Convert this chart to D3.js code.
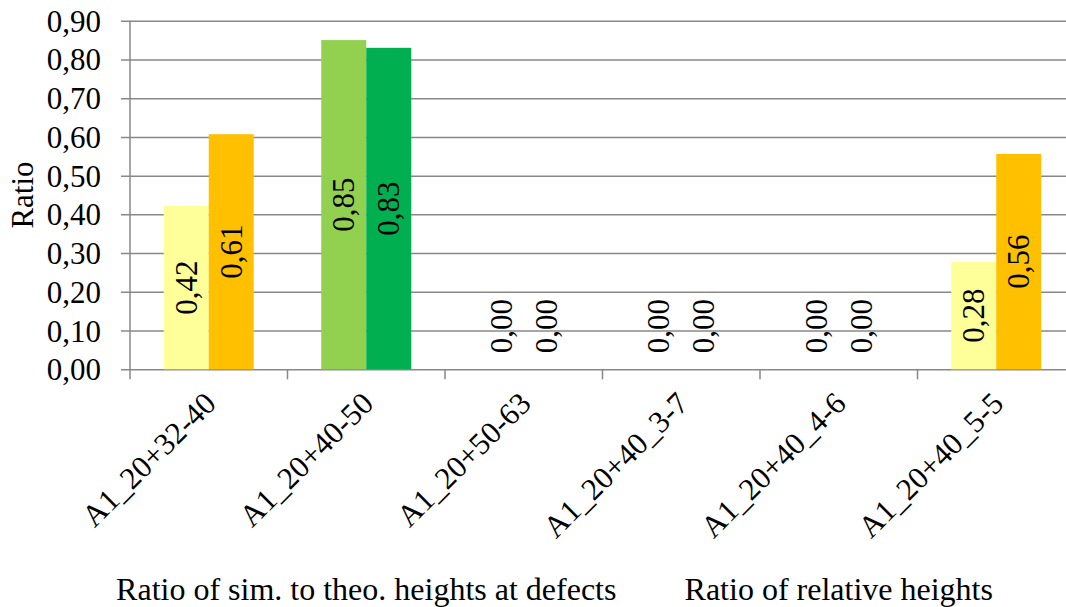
<!DOCTYPE html>
<html>
<head>
<meta charset="utf-8">
<script src="https://cdn.jsdelivr.net/npm/d3@7"></script>
<style>
  html, body { margin: 0; padding: 0; background: #fff; }
  svg text { font-family: "Liberation Serif", Tinos, "Times New Roman", serif; }
</style>
</head>
<body>
<div id="chart"></div>
<script>
// data
const categories = ["A1_20+32-40", "A1_20+40-50", "A1_20+50-63", "A1_20+40_3-7", "A1_20+40_4-6", "A1_20+40_5-5"];
const groupLabels = ["Ratio of sim. to theo. heights at defects", "Ratio of relative heights"];
const groupSizes = [3, 3];
const seriesNames = ["s1", "s2"];
const firstValues = [0.422, 0.85, 0, 0, 0, 0.277];
const secondValues = [0.607, 0.83, 0, 0, 0, 0.556];
const firstColors = ["#FFFF99", "#92D050", "#FFFF99", "#FFFF99", "#FFFF99", "#FFFF99"];
const secondColors = ["#FFC000", "#00B050", "#FFC000", "#FFC000", "#FFC000", "#FFC000"];
const yTicks = [0, 0.1, 0.2, 0.3, 0.4, 0.5, 0.6, 0.7, 0.8, 0.9];
const yTitle = "Ratio";

const width = 1066, height = 607;
const margin = { top: 20.7, left: 130, bottom: 237.7 };
const plotRight = 1075; // plot area runs a bit past the image edge
const fontSize = 31;
const fontFamily = '"Liberation Serif", Tinos, "Times New Roman", serif';
const gridColor = "#888888";

const comma = v => d3.format(".2f")(v).replace(".", ",");

const svg = d3.select("#chart").append("svg")
    .attr("width", width)
    .attr("height", height)
    .attr("font-family", fontFamily)
    .attr("font-size", fontSize);

const x0 = d3.scaleBand()
    .domain(categories)
    .range([margin.left, plotRight])
    .padding(0);

const gap = x0.step() * 0.4286;
const x1 = d3.scaleBand()
    .domain(seriesNames)
    .range([gap / 2, x0.bandwidth() - gap / 2])
    .padding(0);

const y = d3.scaleLinear()
    .domain([0, 0.9])
    .range([height - margin.bottom, margin.top]);

// gridlines + y labels
const yAxis = g => g
    .attr("transform", `translate(${margin.left},0)`)
    .call(d3.axisLeft(y).tickValues(yTicks).tickSize(-(width - margin.left)).tickSizeOuter(0).tickPadding(0).tickFormat(comma))
    .attr("font-family", fontFamily)
    .attr("font-size", fontSize)
    .call(g => g.select(".domain").remove())
    .call(g => g.selectAll(".tick line").attr("x1", -9).attr("stroke", gridColor).attr("stroke-width", 1.5))
    .call(g => g.selectAll(".tick text")
        .attr("x", -29)
        .attr("dy", "0.34em")
        .attr("fill", "#000"));

svg.append("g").call(yAxis);

// vertical axis line
svg.append("line")
    .attr("x1", margin.left).attr("x2", margin.left)
    .attr("y1", y(0.9)).attr("y2", y(0))
    .attr("stroke", gridColor).attr("stroke-width", 1.5);

// bottom tick marks at category boundaries
const boundaries = categories.map(c => x0(c)).concat([plotRight]);
svg.append("g")
    .selectAll("line")
    .data(boundaries)
    .join("line")
    .attr("x1", d => d).attr("x2", d => d)
    .attr("y1", y(0)).attr("y2", y(0) + 10)
    .attr("stroke", gridColor).attr("stroke-width", 1.5);

// bars
const rows = categories.map((c, i) => ({
    cat: c,
    values: [
        { key: seriesNames[0], value: firstValues[i], color: firstColors[i] },
        { key: seriesNames[1], value: secondValues[i], color: secondColors[i] }
    ]
}));

const groups = svg.append("g")
    .selectAll("g")
    .data(rows)
    .join("g")
    .attr("transform", d => `translate(${x0(d.cat)},0)`);

groups.selectAll("rect")
    .data(d => d.values)
    .join("rect")
    .attr("x", d => x1(d.key))
    .attr("width", x1.bandwidth())
    .attr("y", d => y(d.value))
    .attr("height", d => y(0) - y(d.value))
    .attr("fill", d => d.color);

// data labels, rotated, centred inside the bar
groups.selectAll("text")
    .data(d => d.values)
    .join("text")
    .attr("text-anchor", "middle")
    .attr("dy", "0.34em")
    .attr("fill", "#000")
    .text(d => comma(d.value))
    .each(function (d) {
        const len = this.getComputedTextLength();
        const cx = x1(d.key) + x1.bandwidth() / 2;
        const cy = Math.min((y(d.value) + y(0)) / 2, y(0) - 16 - len / 2);
        d3.select(this).attr("transform", `translate(${cx},${cy}) rotate(-90)`);
    });

// category labels at -45deg
svg.append("g")
    .selectAll("text")
    .data(categories)
    .join("text")
    .attr("text-anchor", "end")
    .attr("transform", d => `translate(${x0(d) + x0.bandwidth() / 2 + 9},${y(0) + 36}) rotate(-45)`)
    .text(d => d);

// second level of the category axis
let start = 0;
const spans = groupSizes.map((n, i) => {
    const s = { label: groupLabels[i], x: (x0(categories[start]) + x0(categories[start + n - 1]) + x0.bandwidth()) / 2 };
    start += n;
    return s;
});
svg.append("g")
    .selectAll("text")
    .data(spans)
    .join("text")
    .attr("text-anchor", "middle")
    .attr("font-size", 32)
    .attr("x", d => d.x)
    .attr("y", 600)
    .text(d => d.label);

// y title
svg.append("text")
    .attr("text-anchor", "middle")
    .attr("transform", `translate(33,${(y(0) + y(0.9)) / 2}) rotate(-90)`)
    .text(yTitle);
</script>
</body>
</html>
